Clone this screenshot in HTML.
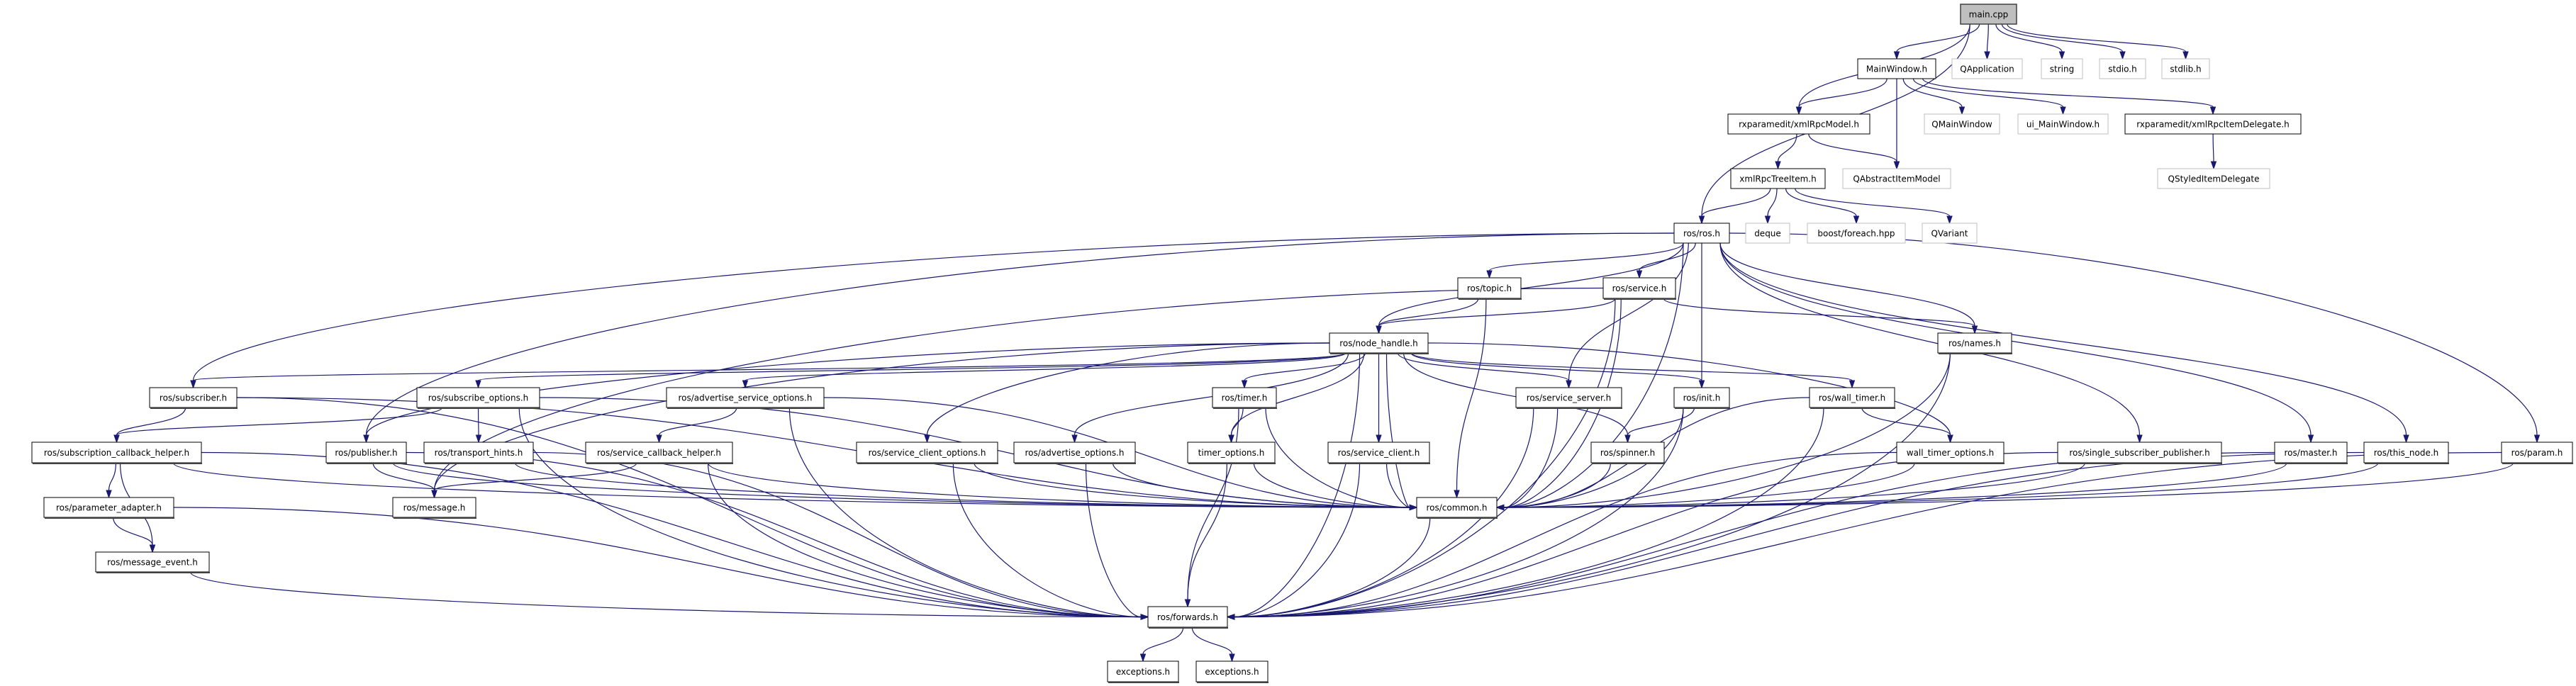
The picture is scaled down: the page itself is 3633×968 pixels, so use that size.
<!DOCTYPE html>
<html><head><meta charset="utf-8">
<style>
html,body{margin:0;padding:0;background:#fff;}
svg{display:block;}
text{font-family:"DejaVu Sans","Liberation Sans",sans-serif;font-size:12px;fill:#000;}
</style></head>
<body>
<svg id="g" xmlns="http://www.w3.org/2000/svg" width="3633" height="968" viewBox="0 0 3633 968">
<g id="edges" fill="none" stroke="#191970" stroke-width="1.2"></g>
<g id="arrows" fill="#191970" stroke="#191970" stroke-width="1"></g>
<g id="nodes">
<rect x="2765" y="6" width="79" height="28" fill="#bfbfbf" stroke="#404040" stroke-width="1.5"/><text x="2804.5" y="24.5" text-anchor="middle">main.cpp</text>
<rect x="2620" y="83" width="110" height="28" fill="#fff" stroke="#000"/><text x="2675" y="101.5" text-anchor="middle">MainWindow.h</text>
<rect x="2753" y="83" width="99" height="28" fill="#fff" stroke="#bfbfbf"/><text x="2802.5" y="101.5" text-anchor="middle" fill="#000">QApplication</text>
<rect x="2879" y="83" width="58" height="28" fill="#fff" stroke="#bfbfbf"/><text x="2908" y="101.5" text-anchor="middle">string</text>
<rect x="2961" y="83" width="65" height="28" fill="#fff" stroke="#bfbfbf"/><text x="2993.5" y="101.5" text-anchor="middle">stdio.h</text>
<rect x="3049" y="83" width="67" height="28" fill="#fff" stroke="#bfbfbf"/><text x="3082.5" y="101.5" text-anchor="middle">stdlib.h</text>
<rect x="2437" y="161" width="200" height="28" fill="#fff" stroke="#000"/><text x="2537" y="179.5" text-anchor="middle">rxparamedit/xmlRpcModel.h</text>
<rect x="2714" y="161" width="106" height="28" fill="#fff" stroke="#bfbfbf"/><text x="2767" y="179.5" text-anchor="middle">QMainWindow</text>
<rect x="2846" y="161" width="127" height="28" fill="#fff" stroke="#bfbfbf"/><text x="2909.5" y="179.5" text-anchor="middle">ui_MainWindow.h</text>
<rect x="2997" y="161" width="248" height="28" fill="#fff" stroke="#000"/><text x="3121" y="179.5" text-anchor="middle">rxparamedit/xmlRpcItemDelegate.h</text>
<rect x="2441" y="238" width="133" height="28" fill="#fff" stroke="#000"/><text x="2507.5" y="256.5" text-anchor="middle">xmlRpcTreeItem.h</text>
<rect x="2599" y="238" width="152" height="28" fill="#fff" stroke="#bfbfbf"/><text x="2675" y="256.5" text-anchor="middle">QAbstractItemModel</text>
<rect x="3043" y="238" width="158" height="28" fill="#fff" stroke="#bfbfbf"/><text x="3122" y="256.5" text-anchor="middle">QStyledItemDelegate</text>
<rect x="2361" y="315" width="78" height="28" fill="#fff" stroke="#000"/><text x="2400" y="333.5" text-anchor="middle">ros/ros.h</text>
<rect x="2462" y="315" width="62" height="28" fill="#fff" stroke="#bfbfbf"/><text x="2493" y="333.5" text-anchor="middle">deque</text>
<rect x="2549" y="315" width="138" height="28" fill="#fff" stroke="#bfbfbf"/><text x="2618" y="333.5" text-anchor="middle">boost/foreach.hpp</text>
<rect x="2711" y="315" width="77" height="28" fill="#fff" stroke="#bfbfbf"/><text x="2749.5" y="333.5" text-anchor="middle">QVariant</text>
</g>
<g id="nodes2"></g>
</svg>
<div style="display:none">
ros/topic.h ros/service.h ros/node_handle.h ros/names.h ros/subscriber.h ros/subscribe_options.h ros/advertise_service_options.h ros/timer.h ros/subscription_callback_helper.h ros/publisher.h ros/transport_hints.h ros/service_callback_helper.h ros/service_client_options.h ros/advertise_options.h timer_options.h ros/parameter_adapter.h ros/message.h ros/message_event.h ros/forwards.h exceptions.h ros/service_server.h ros/init.h ros/wall_timer.h ros/service_client.h ros/spinner.h wall_timer_options.h ros/single_subscriber_publisher.h ros/master.h ros/this_node.h ros/param.h ros/common.h
</div>
<script>
var N={
main:[2765,6,2844,34],mw:[2620,83,2730,111],qapp:[2753,83,2852,111],str:[2879,83,2937,111],stdio:[2961,83,3026,111],stdlib:[3049,83,3116,111],
model:[2437,161,2637,189],qmw:[2714,161,2820,189],ui:[2846,161,2973,189],deleg:[2997,161,3245,189],
tree:[2441,238,2574,266],qaim:[2599,238,2751,266],qsid:[3043,238,3201,266],
ros:[2361,315,2439,343],deque:[2462,315,2524,343],boost:[2549,315,2687,343],qvar:[2711,315,2788,343],
topic:[2056,392,2145,421,"ros/topic.h"],service:[2261,392,2363,421,"ros/service.h"],
nh:[1875,470,2014,498,"ros/node_handle.h"],names:[2733,470,2837,498,"ros/names.h"],
sub:[211,547,334,575,"ros/subscriber.h"],subopt:[588,547,761,575,"ros/subscribe_options.h"],
aso:[940,547,1162,575,"ros/advertise_service_options.h"],timer:[1710,547,1800,575,"ros/timer.h"],
ss:[2138,547,2287,575,"ros/service_server.h"],init:[2361,547,2439,575,"ros/init.h"],wt:[2552,547,2672,575,"ros/wall_timer.h"],
sch:[45,624,284,653,"ros/subscription_callback_helper.h"],pub:[460,624,573,653,"ros/publisher.h"],
th:[598,624,752,653,"ros/transport_hints.h"],svch:[826,624,1033,653,"ros/service_callback_helper.h"],
sco:[1208,624,1407,653,"ros/service_client_options.h"],ao:[1430,624,1601,653,"ros/advertise_options.h"],
to:[1675,624,1798,653,"timer_options.h"],sc:[1873,624,2016,653,"ros/service_client.h"],
spin:[2244,624,2347,653,"ros/spinner.h"],wto:[2675,624,2826,653,"wall_timer_options.h"],
ssp:[2902,624,3133,653,"ros/single_subscriber_publisher.h"],master:[3208,624,3310,653,"ros/master.h"],
thisn:[3334,624,3453,653,"ros/this_node.h"],param:[3528,624,3628,653,"ros/param.h"],
pa:[62,702,245,730,"ros/parameter_adapter.h"],msg:[554,702,671,730,"ros/message.h"],common:[1998,702,2111,730,"ros/common.h"],
me:[135,779,295,807,"ros/message_event.h"],fw:[1619,856,1731,885,"ros/forwards.h"],
ex1:[1562,933,1662,962,"exceptions.h"],ex2:[1687,933,1788,962,"exceptions.h"]
};
var E=[["main","mw"],["main","qapp"],["main","str"],["main","stdio"],["main","stdlib"],["main","model"],["main","ros"],
["mw","model"],["mw","qaim"],["mw","qmw"],["mw","ui"],["mw","deleg"],["model","tree"],["model","qaim"],["deleg","qsid"],
["tree","ros"],["tree","deque"],["tree","boost"],["tree","qvar"],
["ros","sub"],["ros","topic"],["ros","service"],["ros","nh"],["ros","pub"],["ros","ss"],["ros","init"],["ros","common"],["ros","names"],["ros","ssp"],["ros","master"],["ros","thisn"],["ros","param"],
["topic","nh"],["topic","common"],["service","nh"],["service","names"],["service","common"],["service","fw"],["service","msg"],
["nh","sub"],["nh","subopt"],["nh","aso"],["nh","timer"],["nh","pub"],["nh","msg"],["nh","sco"],["nh","ao"],["nh","to"],["nh","sc"],["nh","ss"],["nh","spin"],["nh","init"],["nh","wt"],["nh","wto"],["nh","common"],["nh","fw"],
["sub","sch"],["sub","common"],["sub","fw"],["subopt","sch"],["subopt","th"],["subopt","common"],["subopt","fw"],
["aso","svch"],["aso","common"],["aso","fw"],["timer","to"],["timer","common"],["timer","fw"],
["sch","pa"],["sch","me"],["sch","common"],["sch","fw"],["pub","msg"],["pub","common"],["pub","fw"],
["th","common"],["th","fw"],["svch","msg"],["svch","common"],["svch","fw"],["sco","common"],["sco","fw"],["ao","common"],["ao","fw"],["to","common"],["to","fw"],
["pa","me"],["pa","fw"],["me","fw"],["sc","common"],["sc","fw"],["ss","common"],["ss","fw"],["init","spin"],["init","common"],["init","fw"],["spin","common"],
["wt","wto"],["wt","common"],["wt","fw"],["wto","common"],["wto","fw"],["names","common"],["names","fw"],["ssp","common"],["ssp","fw"],["master","common"],["master","fw"],["thisn","common"],["thisn","fw"],["param","common"],["param","fw"],
["common","fw"],["fw","ex1"],["fw","ex2"]];
var NS="http://www.w3.org/2000/svg";
var eg=document.getElementById("edges"),ag=document.getElementById("arrows"),ng=document.getElementById("nodes2");
for(var k in N){var n=N[k];if(n.length<5)continue;
 var r=document.createElementNS(NS,"rect");r.setAttribute("x",n[0]);r.setAttribute("y",n[1]);r.setAttribute("width",n[2]-n[0]);r.setAttribute("height",n[3]-n[1]);r.setAttribute("fill","#fff");r.setAttribute("stroke","#000");ng.appendChild(r);
 var l=document.createElementNS(NS,"line");l.setAttribute("x1",n[0]+1);l.setAttribute("x2",n[2]+1);l.setAttribute("y1",n[3]+1);l.setAttribute("y2",n[3]+1);l.setAttribute("stroke","#404040");l.setAttribute("stroke-width","2");ng.appendChild(l);
 var t=document.createElementNS(NS,"text");t.setAttribute("x",(n[0]+n[2])/2);t.setAttribute("y",(n[1]+n[3])/2+4.5);t.setAttribute("text-anchor","middle");t.textContent=n[4];ng.appendChild(t);}
E.forEach(function(e){var s=N[e[0]],t=N[e[1]];
 var scx=(s[0]+s[2])/2,tcx=(t[0]+t[2])/2,sy=s[3],ty=t[1];var tx=tcx,sx=scx+Math.max(-(s[2]-s[0])/3,Math.min((s[2]-s[0])/3,(tcx-scx)*0.1));
 var dy=ty-sy,c1x=sx,c1y=sy+dy*0.5,c2x=tx,c2y=ty-dy*0.5;
 var side=(e[1]=="fw"||e[1]=="common");
 if(side&&scx<t[0]-40){tx=t[0];ty=(t[1]+t[3])/2;c2x=tx-Math.abs(tx-sx)*0.4;c2y=ty;c1y=sy+(ty-sy)*0.6;}
 else if(side&&scx>t[2]+40){tx=t[2];ty=(t[1]+t[3])/2;c2x=tx+Math.abs(tx-sx)*0.4;c2y=ty;c1y=sy+(ty-sy)*0.6;}
 if(dy>100&&Math.abs(tcx-scx)>4*dy){sx=tcx<scx?s[0]:s[2];sy=(s[1]+s[3])/2;c1x=sx+(tx-sx)*0.5;c1y=sy;}
 var ang=Math.atan2(ty-c2y,tx-c2x);if(c2x==tx&&c2y==ty)ang=Math.atan2(ty-sy,tx-sx);
 var L=10,W=3.5,bx=tx-L*Math.cos(ang),by=ty-L*Math.sin(ang);
 var p=document.createElementNS(NS,"path");p.setAttribute("d","M"+sx+","+sy+" C"+c1x+","+c1y+" "+c2x+","+c2y+" "+bx+","+by);eg.appendChild(p);
 var a=document.createElementNS(NS,"polygon");var px=-Math.sin(ang)*W,py=Math.cos(ang)*W;
 a.setAttribute("points",tx+","+ty+" "+(bx+px)+","+(by+py)+" "+(bx-px)+","+(by-py));ag.appendChild(a);});
</script>
</body></html>
